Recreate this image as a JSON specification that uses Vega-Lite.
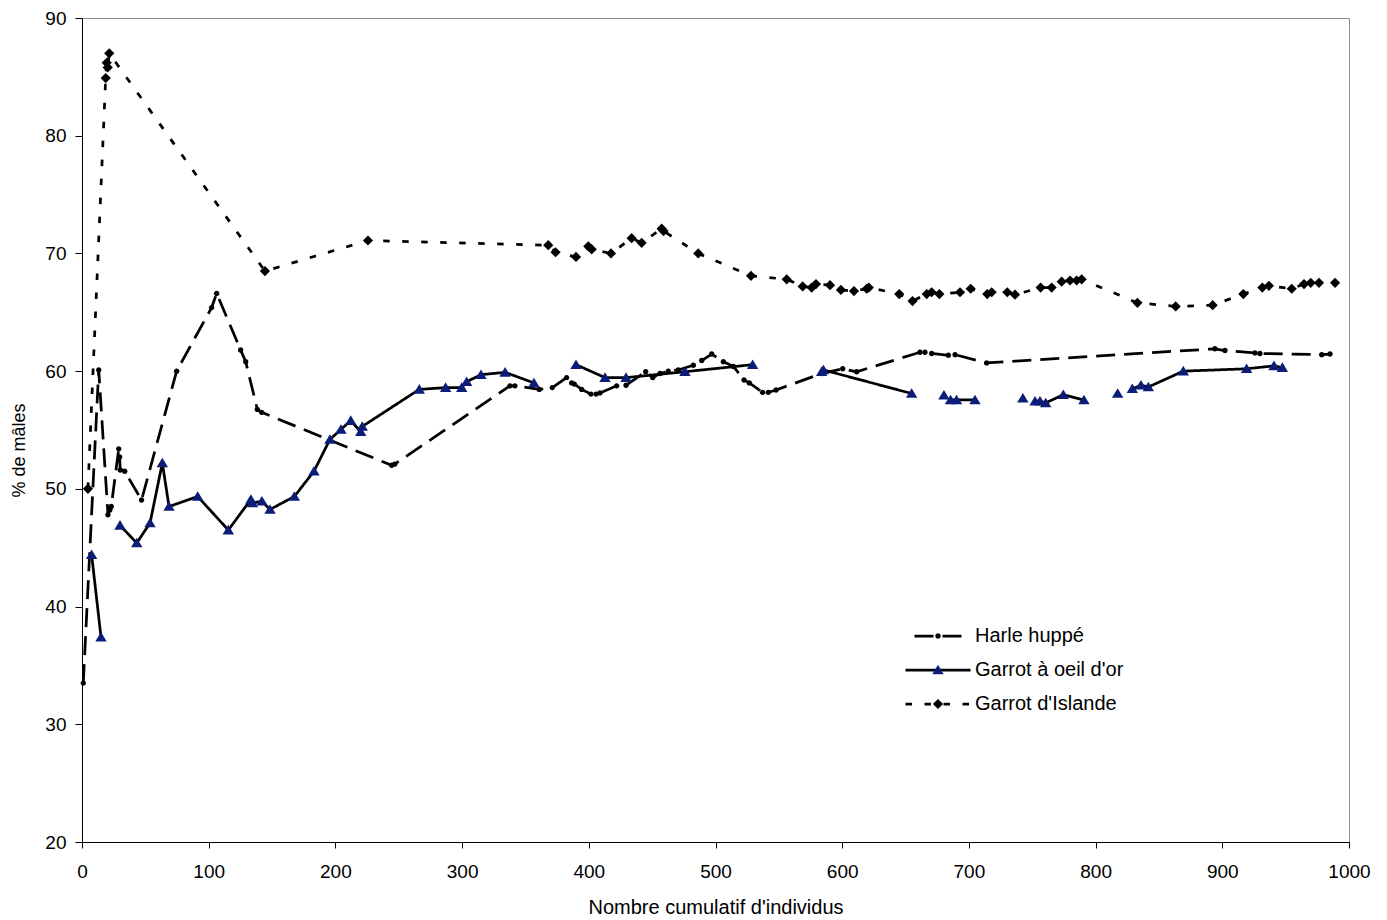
{
  "$schema": "https://vega.github.io/schema/vega-lite/v6.json",
  "autosize": {"type": "none"},
  "width": 1267,
  "height": 824,
  "padding": {"left": 82, "top": 18, "right": 38, "bottom": 78},
  "background": "white",
  "config": {
    "view": {"stroke": "#8c8c8c", "strokeWidth": 1},
    "font": "Liberation Sans",
    "axis": {
      "grid": false,
      "domainColor": "#000000",
      "domainWidth": 1,
      "tickColor": "#000000",
      "tickWidth": 1,
      "labelFont": "Liberation Sans",
      "labelFontSize": 19,
      "labelColor": "#000000",
      "titleFont": "Liberation Sans",
      "titleFontSize": 20,
      "titleFontWeight": "normal",
      "titleColor": "#000000",
      "labelFlush": false,
      "labelOverlap": false
    }
  },
  "data": {
    "values": [
      {"s": "Harle huppé", "x": 1, "y": 33.5},
      {"s": "Harle huppé", "x": 13.2, "y": 60.1},
      {"s": "Harle huppé", "x": 20.5, "y": 47.8},
      {"s": "Harle huppé", "x": 22, "y": 48.2},
      {"s": "Harle huppé", "x": 23.1, "y": 48.5},
      {"s": "Harle huppé", "x": 29, "y": 53.4},
      {"s": "Harle huppé", "x": 29.7, "y": 52.7},
      {"s": "Harle huppé", "x": 30.2, "y": 51.6},
      {"s": "Harle huppé", "x": 33.7, "y": 51.5},
      {"s": "Harle huppé", "x": 47, "y": 49.05},
      {"s": "Harle huppé", "x": 74.7, "y": 60.0},
      {"s": "Harle huppé", "x": 102.3, "y": 65.4},
      {"s": "Harle huppé", "x": 106.3, "y": 66.6},
      {"s": "Harle huppé", "x": 125.2, "y": 61.8},
      {"s": "Harle huppé", "x": 129.2, "y": 60.8},
      {"s": "Harle huppé", "x": 138.4, "y": 56.75},
      {"s": "Harle huppé", "x": 141.8, "y": 56.5},
      {"s": "Harle huppé", "x": 244.4, "y": 52.0},
      {"s": "Harle huppé", "x": 246.8, "y": 52.1},
      {"s": "Harle huppé", "x": 337.8, "y": 58.75},
      {"s": "Harle huppé", "x": 341.7, "y": 58.75},
      {"s": "Harle huppé", "x": 360.9, "y": 58.45},
      {"s": "Harle huppé", "x": 371.2, "y": 58.6},
      {"s": "Harle huppé", "x": 382.5, "y": 59.45},
      {"s": "Harle huppé", "x": 386.5, "y": 59.0},
      {"s": "Harle huppé", "x": 388.6, "y": 58.9},
      {"s": "Harle huppé", "x": 394.4, "y": 58.45},
      {"s": "Harle huppé", "x": 401.7, "y": 58.05},
      {"s": "Harle huppé", "x": 405.7, "y": 58.05},
      {"s": "Harle huppé", "x": 408.8, "y": 58.15},
      {"s": "Harle huppé", "x": 422, "y": 58.75},
      {"s": "Harle huppé", "x": 429.4, "y": 58.8},
      {"s": "Harle huppé", "x": 444.9, "y": 59.95},
      {"s": "Harle huppé", "x": 450.4, "y": 59.45},
      {"s": "Harle huppé", "x": 456.2, "y": 59.8},
      {"s": "Harle huppé", "x": 462.7, "y": 60.0},
      {"s": "Harle huppé", "x": 470.6, "y": 60.1},
      {"s": "Harle huppé", "x": 482.5, "y": 60.5},
      {"s": "Harle huppé", "x": 489.1, "y": 60.9},
      {"s": "Harle huppé", "x": 497, "y": 61.45},
      {"s": "Harle huppé", "x": 506.2, "y": 60.8},
      {"s": "Harle huppé", "x": 514.1, "y": 60.4},
      {"s": "Harle huppé", "x": 522.5, "y": 59.25},
      {"s": "Harle huppé", "x": 526.7, "y": 59.0},
      {"s": "Harle huppé", "x": 537.2, "y": 58.2},
      {"s": "Harle huppé", "x": 541.7, "y": 58.2},
      {"s": "Harle huppé", "x": 547.8, "y": 58.4},
      {"s": "Harle huppé", "x": 583.8, "y": 59.8},
      {"s": "Harle huppé", "x": 600.4, "y": 60.2},
      {"s": "Harle huppé", "x": 611.4, "y": 59.95},
      {"s": "Harle huppé", "x": 661.4, "y": 61.6},
      {"s": "Harle huppé", "x": 665.3, "y": 61.6},
      {"s": "Harle huppé", "x": 670.6, "y": 61.5},
      {"s": "Harle huppé", "x": 683.8, "y": 61.35},
      {"s": "Harle huppé", "x": 689.1, "y": 61.4},
      {"s": "Harle huppé", "x": 714, "y": 60.7},
      {"s": "Harle huppé", "x": 894.2, "y": 61.9},
      {"s": "Harle huppé", "x": 902.1, "y": 61.75},
      {"s": "Harle huppé", "x": 925.8, "y": 61.55},
      {"s": "Harle huppé", "x": 929.7, "y": 61.5},
      {"s": "Harle huppé", "x": 978.5, "y": 61.4},
      {"s": "Harle huppé", "x": 985, "y": 61.45},

      {"s": "Garrot à oeil d'or", "x": 7.6, "y": 44.4},
      {"s": "Garrot à oeil d'or", "x": 15, "y": 37.4},
      {"s": "Garrot à oeil d'or", "x": 22, "y": null},
      {"s": "Garrot à oeil d'or", "x": 30, "y": 46.9},
      {"s": "Garrot à oeil d'or", "x": 43.2, "y": 45.4},
      {"s": "Garrot à oeil d'or", "x": 53.7, "y": 47.1},
      {"s": "Garrot à oeil d'or", "x": 63.4, "y": 52.2},
      {"s": "Garrot à oeil d'or", "x": 68.7, "y": 48.5},
      {"s": "Garrot à oeil d'or", "x": 91.3, "y": 49.35},
      {"s": "Garrot à oeil d'or", "x": 115.5, "y": 46.5},
      {"s": "Garrot à oeil d'or", "x": 133.3, "y": 49.1},
      {"s": "Garrot à oeil d'or", "x": 134.5, "y": 48.8},
      {"s": "Garrot à oeil d'or", "x": 142, "y": 48.95},
      {"s": "Garrot à oeil d'or", "x": 148.4, "y": 48.25},
      {"s": "Garrot à oeil d'or", "x": 167.6, "y": 49.35},
      {"s": "Garrot à oeil d'or", "x": 183.1, "y": 51.5},
      {"s": "Garrot à oeil d'or", "x": 195.7, "y": 54.2},
      {"s": "Garrot à oeil d'or", "x": 204.4, "y": 55.05},
      {"s": "Garrot à oeil d'or", "x": 212.1, "y": 55.8},
      {"s": "Garrot à oeil d'or", "x": 220, "y": 54.85},
      {"s": "Garrot à oeil d'or", "x": 221.2, "y": 55.3},
      {"s": "Garrot à oeil d'or", "x": 266.2, "y": 58.45},
      {"s": "Garrot à oeil d'or", "x": 287, "y": 58.6},
      {"s": "Garrot à oeil d'or", "x": 299.7, "y": 58.6},
      {"s": "Garrot à oeil d'or", "x": 303.6, "y": 59.1},
      {"s": "Garrot à oeil d'or", "x": 314.9, "y": 59.7},
      {"s": "Garrot à oeil d'or", "x": 333.9, "y": 59.9},
      {"s": "Garrot à oeil d'or", "x": 356.7, "y": 59.0},
      {"s": "Garrot à oeil d'or", "x": 373, "y": null},
      {"s": "Garrot à oeil d'or", "x": 389.9, "y": 60.55},
      {"s": "Garrot à oeil d'or", "x": 412.8, "y": 59.45},
      {"s": "Garrot à oeil d'or", "x": 429.4, "y": 59.45},
      {"s": "Garrot à oeil d'or", "x": 475.9, "y": 59.95},
      {"s": "Garrot à oeil d'or", "x": 529.3, "y": 60.55},
      {"s": "Garrot à oeil d'or", "x": 556, "y": null},
      {"s": "Garrot à oeil d'or", "x": 583.8, "y": 59.95},
      {"s": "Garrot à oeil d'or", "x": 585.2, "y": 60.1},
      {"s": "Garrot à oeil d'or", "x": 654.8, "y": 58.1},
      {"s": "Garrot à oeil d'or", "x": 667, "y": null},
      {"s": "Garrot à oeil d'or", "x": 680.3, "y": 57.95},
      {"s": "Garrot à oeil d'or", "x": 683, "y": null},
      {"s": "Garrot à oeil d'or", "x": 685.5, "y": 57.55},
      {"s": "Garrot à oeil d'or", "x": 690.2, "y": 57.55},
      {"s": "Garrot à oeil d'or", "x": 704.8, "y": 57.55},
      {"s": "Garrot à oeil d'or", "x": 724, "y": null},
      {"s": "Garrot à oeil d'or", "x": 742.6, "y": 57.7},
      {"s": "Garrot à oeil d'or", "x": 747, "y": null},
      {"s": "Garrot à oeil d'or", "x": 752.2, "y": 57.45},
      {"s": "Garrot à oeil d'or", "x": 756.1, "y": 57.45},
      {"s": "Garrot à oeil d'or", "x": 760.6, "y": 57.3},
      {"s": "Garrot à oeil d'or", "x": 774.5, "y": 58.0},
      {"s": "Garrot à oeil d'or", "x": 790.8, "y": 57.55},
      {"s": "Garrot à oeil d'or", "x": 804, "y": null},
      {"s": "Garrot à oeil d'or", "x": 817.4, "y": 58.1},
      {"s": "Garrot à oeil d'or", "x": 823, "y": null},
      {"s": "Garrot à oeil d'or", "x": 829, "y": 58.5},
      {"s": "Garrot à oeil d'or", "x": 835.8, "y": 58.8},
      {"s": "Garrot à oeil d'or", "x": 841.6, "y": 58.65},
      {"s": "Garrot à oeil d'or", "x": 869.2, "y": 60.0},
      {"s": "Garrot à oeil d'or", "x": 919.2, "y": 60.2},
      {"s": "Garrot à oeil d'or", "x": 940.8, "y": 60.45},
      {"s": "Garrot à oeil d'or", "x": 947.4, "y": 60.3},

      {"s": "Garrot d'Islande", "x": 4.7, "y": 50.0},
      {"s": "Garrot d'Islande", "x": 18.7, "y": 84.9},
      {"s": "Garrot d'Islande", "x": 19.5, "y": 86.2},
      {"s": "Garrot d'Islande", "x": 20.3, "y": 85.8},
      {"s": "Garrot d'Islande", "x": 21.5, "y": 87.0},
      {"s": "Garrot d'Islande", "x": 144.4, "y": 68.5},
      {"s": "Garrot d'Islande", "x": 225.7, "y": 71.1},
      {"s": "Garrot d'Islande", "x": 368, "y": 70.7},
      {"s": "Garrot d'Islande", "x": 373.8, "y": 70.1},
      {"s": "Garrot d'Islande", "x": 389.9, "y": 69.7},
      {"s": "Garrot d'Islande", "x": 399.6, "y": 70.6},
      {"s": "Garrot d'Islande", "x": 402.3, "y": 70.35},
      {"s": "Garrot d'Islande", "x": 417.5, "y": 70.0},
      {"s": "Garrot d'Islande", "x": 433.8, "y": 71.3},
      {"s": "Garrot d'Islande", "x": 441.7, "y": 70.9},
      {"s": "Garrot d'Islande", "x": 457.5, "y": 72.1},
      {"s": "Garrot d'Islande", "x": 459, "y": 71.9},
      {"s": "Garrot d'Islande", "x": 486.4, "y": 70.0},
      {"s": "Garrot d'Islande", "x": 528, "y": 68.1},
      {"s": "Garrot d'Islande", "x": 556.2, "y": 67.8},
      {"s": "Garrot d'Islande", "x": 568.8, "y": 67.2},
      {"s": "Garrot d'Islande", "x": 575.9, "y": 67.1},
      {"s": "Garrot d'Islande", "x": 579.3, "y": 67.4},
      {"s": "Garrot d'Islande", "x": 590.4, "y": 67.3},
      {"s": "Garrot d'Islande", "x": 599, "y": 66.9},
      {"s": "Garrot d'Islande", "x": 609.3, "y": 66.8},
      {"s": "Garrot d'Islande", "x": 619.3, "y": 67.0},
      {"s": "Garrot d'Islande", "x": 621, "y": 67.1},
      {"s": "Garrot d'Islande", "x": 645, "y": 66.55},
      {"s": "Garrot d'Islande", "x": 655.5, "y": 65.95},
      {"s": "Garrot d'Islande", "x": 666.7, "y": 66.55},
      {"s": "Garrot d'Islande", "x": 670.6, "y": 66.7},
      {"s": "Garrot d'Islande", "x": 676.7, "y": 66.55},
      {"s": "Garrot d'Islande", "x": 693, "y": 66.7},
      {"s": "Garrot d'Islande", "x": 701.4, "y": 67.0},
      {"s": "Garrot d'Islande", "x": 714.5, "y": 66.55},
      {"s": "Garrot d'Islande", "x": 718, "y": 66.7},
      {"s": "Garrot d'Islande", "x": 730.3, "y": 66.7},
      {"s": "Garrot d'Islande", "x": 736.4, "y": 66.5},
      {"s": "Garrot d'Islande", "x": 756.6, "y": 67.1},
      {"s": "Garrot d'Islande", "x": 765.3, "y": 67.1},
      {"s": "Garrot d'Islande", "x": 773.2, "y": 67.6},
      {"s": "Garrot d'Islande", "x": 779.8, "y": 67.7},
      {"s": "Garrot d'Islande", "x": 785, "y": 67.7},
      {"s": "Garrot d'Islande", "x": 789, "y": 67.8},
      {"s": "Garrot d'Islande", "x": 833, "y": 65.8},
      {"s": "Garrot d'Islande", "x": 863.2, "y": 65.5},
      {"s": "Garrot d'Islande", "x": 892.4, "y": 65.6},
      {"s": "Garrot d'Islande", "x": 916.6, "y": 66.55},
      {"s": "Garrot d'Islande", "x": 931.6, "y": 67.1},
      {"s": "Garrot d'Islande", "x": 936.8, "y": 67.25},
      {"s": "Garrot d'Islande", "x": 954.8, "y": 67.0},
      {"s": "Garrot d'Islande", "x": 964.5, "y": 67.4},
      {"s": "Garrot d'Islande", "x": 969.8, "y": 67.5},
      {"s": "Garrot d'Islande", "x": 976.3, "y": 67.5},
      {"s": "Garrot d'Islande", "x": 989, "y": 67.5}
    ]
  },
  "encoding": {
    "x": {
      "field": "x", "type": "quantitative",
      "scale": {"domain": [0, 1000], "nice": false, "zero": false},
      "axis": {
        "values": [0, 100, 200, 300, 400, 500, 600, 700, 800, 900, 1000],
        "format": "d",
        "title": "Nombre cumulatif d'individus",
        "tickSize": 6, "labelPadding": 14, "titlePadding": 16
      }
    },
    "y": {
      "field": "y", "type": "quantitative",
      "scale": {"domain": [20, 90], "nice": false, "zero": false},
      "axis": {
        "values": [20, 30, 40, 50, 60, 70, 80, 90],
        "format": "d",
        "title": "% de mâles",
        "titleFontSize": 18,
        "titleY": 432,
        "tickSize": 7, "labelPadding": 9, "titlePadding": 16
      }
    }
  },
  "layer": [
    {
      "mark": {"type": "line", "color": "#000000", "strokeWidth": 2.75, "invalid": "break-paths-show-domains"},
      "encoding": {
        "strokeDash": {
          "field": "s", "type": "nominal",
          "sort": ["Harle huppé", "Garrot à oeil d'or", "Garrot d'Islande"],
          "scale": {
            "range": [[19, 9], [1, 0], [6.5, 12.5]]
          },
          "legend": {
            "orient": "none", "legendX": 822, "legendY": 608,
            "title": null, "padding": 0,
            "symbolType": "stroke", "symbolSize": 4225,
            "symbolStrokeWidth": 2.75, "symbolStrokeColor": "#000000",
            "symbolDashOffset": 19,
            "clipHeight": 20, "rowPadding": 14, "labelOffset": 3,
            "labelFont": "Liberation Sans", "labelFontSize": 20, "labelColor": "#000000",
            "labelLimit": 300, "zindex": 0
          }
        }
      }
    },
    {
      "transform": [{"filter": "isValid(datum.y)"}],
      "mark": {"type": "point", "filled": true, "opacity": 1, "size": 144},
      "encoding": {
        "shape": {
          "field": "s", "type": "nominal",
          "scale": {
            "domain": ["Harle huppé", "Garrot à oeil d'or", "Garrot d'Islande"],
            "range": [
              "M0.45,0A0.45,0.45,0,1,1,-0.45,0A0.45,0.45,0,1,1,0.45,0Z",
              "M-0.95,0.72L0.95,0.72L0,-0.88Z",
              "M0,-0.85L0.85,0L0,0.85L-0.85,0Z"
            ]
          },
          "legend": {
            "orient": "none", "legendX": 846, "legendY": 608,
            "title": null, "padding": 0, "symbolSize": 144,
            "clipHeight": 20, "rowPadding": 14, "labelExpr": "''",
            "labelFontSize": 20, "zindex": 1
          }
        },
        "color": {
          "field": "s", "type": "nominal",
          "scale": {
            "domain": ["Harle huppé", "Garrot à oeil d'or", "Garrot d'Islande"],
            "range": ["#000000", "#0b1d78", "#000000"]
          },
          "legend": {
            "orient": "none", "legendX": 846, "legendY": 608,
            "title": null, "padding": 0, "symbolSize": 144,
            "clipHeight": 20, "rowPadding": 14, "labelExpr": "''",
            "labelFontSize": 20, "zindex": 1
          }
        }
      }
    }
  ]
}
